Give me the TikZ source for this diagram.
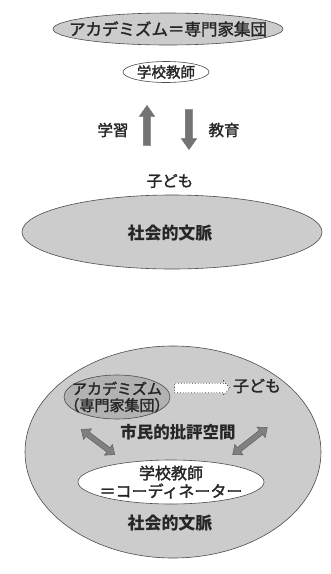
\documentclass[tikz,border=0pt]{standalone}
\usepackage{fontspec}
\setmainfont{Noto Sans CJK JP}
\newfontfamily\medfont[FakeBold=1.8]{Noto Sans CJK JP}
\usetikzlibrary{shapes.geometric,shapes.arrows,arrows.meta}
\definecolor{ellgray}{gray}{0.80}
\definecolor{darkgray2}{gray}{0.70}
\tikzset{
  ell/.style={ellipse, draw=black!70, line width=0.6pt, inner sep=0pt},
  txt/.style={inner sep=0pt, text=black!85},
  fatarrow/.style={single arrow, draw=black!55, line width=0.4pt, fill=black!55,
    minimum height=40pt, minimum width=15pt, inner xsep=0pt, inner ysep=3.5pt,
    single arrow head extend=4pt, single arrow tip angle=70},
  dbl/.style={double arrow, draw=black!65, line width=0.4pt, fill=black!50,
    minimum width=13pt, inner xsep=0pt, inner ysep=2.5pt,
    double arrow head extend=4pt, double arrow tip angle=80}
}
\begin{document}
\begin{tikzpicture}[x=1pt,y=-1pt]
\useasboundingbox[fill=white] (0,0) rectangle (331,574);
% top diagram
\node[ell, fill=ellgray, minimum width=230pt, minimum height=32pt] (acad) at (168,29) {};
\node[txt, font=\fontsize{16.5}{16.5}\medfont] (acadt) at (acad.center) {アカデミズム＝専門家集団};
\node[ell, fill=white, minimum width=86pt, minimum height=21pt] (teach) at (166,72) {};
\node[txt, font=\fontsize{14.5}{14.5}\medfont] (teacht) at (teach.center) {学校教師};
\node[fatarrow, rotate=90] (up) at (147,128) {};
\node[fatarrow, rotate=-90] (down) at (189,127) {};
\node[txt, font=\fontsize{15.5}{15.5}\medfont] (gaku) at (113,130) {学習};
\node[txt, font=\fontsize{15.5}{15.5}\medfont] (kyo) at (224,130) {教育};
\node[txt, font=\fontsize{15.5}{15.5}\medfont] (child) at (170,181) {子ども};
\node[ell, fill=ellgray, minimum width=300pt, minimum height=74pt] (soc) at (172,232) {};
\node[txt, font=\fontsize{17}{17}\selectfont\bfseries] (soct) at (170,233) {社会的文脈};
% bottom diagram
\node[ell, fill=ellgray, minimum width=296pt, minimum height=212pt] (big) at (173,452) {};
\node[ell, fill=darkgray2, minimum width=106pt, minimum height=44pt] (acad2) at (117,397) {};
\node[txt, font=\fontsize{15}{16.5}\medfont, align=center] (acad2t) at (acad2.center) {アカデミズム\\（専門家集団）};
\node[txt, font=\fontsize{16}{16}\medfont] (child2) at (257,386) {子ども};
\node[single arrow, draw=black!75, dotted, line width=0.8pt, fill=white,
  minimum height=55pt, minimum width=14pt, inner xsep=0pt, inner ysep=4pt,
  single arrow head extend=2pt, single arrow tip angle=100] (dash) at (200,388) {};
\node[txt, font=\fontsize{16.5}{16.5}\selectfont\bfseries] (civ) at (178,432) {市民的批評空間};
\node[dbl, minimum height=42pt, rotate=-37] (dl) at (98,442) {};
\node[dbl, minimum height=44pt, rotate=38] (dr) at (250,441) {};
\node[ell, fill=white, minimum width=186pt, minimum height=44pt] (coord) at (171,482) {};
\node[txt, font=\fontsize{16}{18}\medfont, align=center] (coordt) at (coord.center) {学校教師\\＝コーディネーター};
\node[txt, font=\fontsize{17}{17}\selectfont\bfseries] (soc2) at (170,523) {社会的文脈};
\end{tikzpicture}
\end{document}
